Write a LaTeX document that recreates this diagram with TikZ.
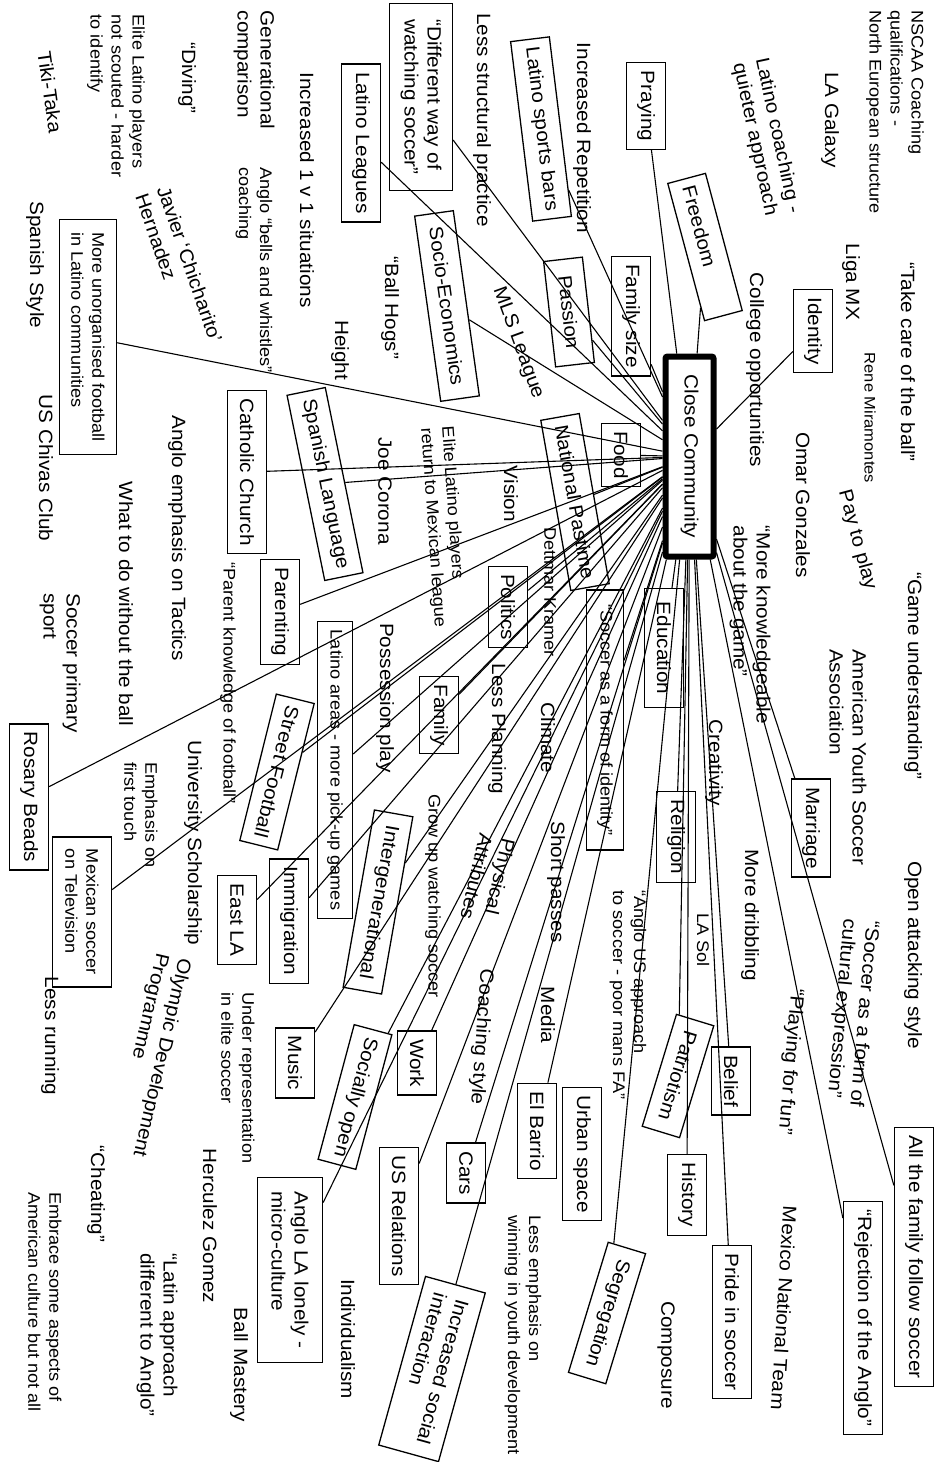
\documentclass[tikz,border=0pt]{standalone}
\usepackage{fontspec}
\setmainfont{Liberation Sans}[FakeStretch=1.08]
\newcommand\fBig{\fontsize{19.2}{23}\selectfont}
\newcommand\fSml{\fontsize{16.8}{21}\selectfont}
\newcommand\fTny{\fontsize{15.3}{18}\selectfont}
\begin{document}
\begin{tikzpicture}[x=1pt,y=-1pt,
  lab/.style={rotate=-90, inner sep=0pt, font=\fBig, align=left},
  sml/.style={font=\fSml},
  box/.style={draw, line width=1.3pt, rotate=-90, font=\fBig, inner xsep=8pt, inner ysep=2pt, minimum height=39pt},
  mbox/.style={draw, line width=1.3pt, rotate=-90, font=\fBig, align=left, inner xsep=8pt, inner ysep=6pt},
  link/.style={line width=1.1pt},
  hub/.style={draw, line width=6pt, rounded corners=2pt, rotate=-90, font=\fBig, minimum width=200pt, minimum height=48pt}]

\fill[white] (0,0) rectangle (938,1462);
\useasboundingbox (0,0) rectangle (938,1462);

% central concept
\node[hub] (cc) at (689.5,456.5) {Close Community};

% boxed concepts
\node[box] (praying) at (646,106) {Praying};
\node[box, rotate=15, text width=126pt, align=left] (freedom) at (705,247) {Freedom};
\node[box] (identity) at (813,331) {Identity};
\node[box, rotate=7] (sportsbars) at (541,129) {Latino sports bars};
\node[mbox, minimum width=187pt, minimum height=63pt] (diffway) at (421,97) {“Different way of\\watching soccer”};
\node[box] (leagues) at (361,143) {Latino Leagues};
\node[box, rotate=8, minimum width=187pt] (socio) at (447,306) {Socio-Economics};
\node[box] (famsize) at (631,316) {Family size};
\node[box, rotate=6.5, minimum width=106pt] (passion) at (569,312) {Passion};
\node[box] (food) at (621,455) {Food};
\node[box, rotate=10] (natpast) at (575,502) {National Pastime};
\node[mbox, font=\fSml, minimum width=235pt, minimum height=57pt] (unorg) at (88,337) {More unorganised football\\in Latino communities};
\node[box] (church) at (247,472) {Catholic Church};
\node[box, rotate=11.5] (spanish) at (325,484) {Spanish Language};
\node[box] (parenting) at (280,612) {Parenting};
\node[box] (politics) at (508,607) {Politics};
\node[box, font=\fSml, minimum width=260pt, minimum height=37pt] (soccid) at (605,720) {“Soccer as a form of identity”};
\node[box, minimum width=119pt] (education) at (664,648) {Education};
\node[box, font=\fSml, minimum height=35pt] (latareas) at (335,770) {Latino areas - more pick-up games};
\node[box] (family) at (439,715) {Family};
\node[box] (rosary) at (29,797) {Rosary Beads};
\node[box, rotate=-14] (street) at (277,772) {Street Football};
\node[box] (religion) at (676,837) {Religion};
\node[box] (marriage) at (811,828) {Marriage};
\node[mbox, font=\fSml, minimum width=150pt, minimum height=59pt] (mextv) at (82,912) {Mexican soccer\\on Television};
\node[box] (eastla) at (237,920) {East LA};
\node[box] (immig) at (289,921) {Immigration};
\node[box, rotate=-10, minimum width=180pt] (intergen) at (378,902) {Intergenerational};
\node[box] (music) at (295,1063) {Music};
\node[box, rotate=-15] (sociopen) at (355,1097) {Socially open};
\node[box] (work) at (417,1063) {Work};
\node[box] (usrel) at (399,1216) {US Relations};
\node[mbox, minimum width=185pt, minimum height=65pt] (anglola) at (290,1270) {Anglo LA lonely -\\micro-culture};
\node[box] (cars) at (466,1173) {Cars};
\node[mbox, rotate=-15.5, minimum width=175pt, minimum height=62pt] (incsoc) at (432,1369) {Increased social\\interaction};
\node[box] (elbarrio) at (537,1131) {El Barrio};
\node[box] (urban) at (582,1154) {Urban space};
\node[box, rotate=-17, minimum width=136pt] (segreg) at (607,1313) {Segregation};
\node[box, rotate=-17, minimum width=117pt] (patriot) at (678,1076) {Patriotism};
\node[box] (belief) at (731,1081) {Belief};
\node[box] (history) at (687,1195) {History};
\node[box] (pride) at (732,1322) {Pride in soccer};
\node[box] (rejection) at (863,1318) {“Rejection of the Anglo”};
\node[box] (allfam) at (914,1257) {All the family follow soccer};

% free-standing notes
\node[lab, sml] (nscaa) at (895,112) {NSCAA Coaching\\qualifications -\\North European structure};
\node[lab] (galaxy) at (830,120) {LA Galaxy};
\node[lab, rotate=12] (latcoach) at (766,138) {Latino coaching -\\quieter approach};
\node[lab] (take) at (908,362) {“Take care of the ball”};
\node[lab] (ligamx) at (851,282) {Liga MX};
\node[lab] (college) at (755,370) {College opportunities};
\node[lab, font=\fTny] (rene) at (870,418) {Rene Miramontes};
\node[lab] (omar) at (803,505) {Omar Gonzales};
\node[lab, rotate=15] (pay) at (857,540) {Pay to play};
\node[lab] (game) at (913,676) {“Game understanding”};
\node[lab] (knowl) at (750,625) {“More knowledgeable\\about the game”};
\node[lab] (ayso) at (848,757) {American Youth Soccer\\Association};
\node[lab] (open) at (913,955) {Open attacking style};
\node[lab] (creat) at (714,763) {Creativity};
\node[lab] (dribb) at (750,915) {More dribbling};
\node[lab, sml] (lasol) at (703,940) {LA Sol};
\node[lab, sml] (anglous) at (628,995) {“Anglo US approach\\to soccer - poor mans FA”};
\node[lab, rotate=-5] (playfun) at (790,1062) {“Playing for fun”};
\node[lab, rotate=-5] (cultexp) at (852,1013) {“Soccer as a form of\\cultural expression”};
\node[lab, rotate=-3.5] (mexnat) at (784,1308) {Mexico National Team};
\node[lab] (compos) at (666,1355) {Composure};
\node[lab, sml] (lessemph) at (523,1335) {Less emphasis on\\winning in youth development};
\node[lab] (individ) at (348,1339) {Individualism};
\node[lab] (ballmast) at (239,1365) {Ball Mastery};
\node[lab] (herc) at (210,1226) {Herculez Gomez};
\node[lab] (latinapp) at (157,1335) {“Latin approach\\different to Anglo”};
\node[lab] (cheat) at (96,1194) {“Cheating”};
\node[lab, sml] (embrace) at (45,1302) {Embrace some aspects of\\American culture but not all};
\node[lab, sml] (underrep) at (238,1078) {Under representation\\in elite soccer};
\node[lab, rotate=-13] (olympic) at (150,1055) {Olympic Development\\Programme};
\node[lab] (lessrun) at (50,1036) {Less running};
\node[lab] (univ) at (193,843) {University Scholarship};
\node[lab, sml] (emph) at (141,815) {Emphasis on\\first touch};
\node[lab, sml] (parentk) at (228,683) {“Parent knowledge of football”};
\node[lab] (soccprim) at (60,663) {Soccer primary\\sport};
\node[lab] (whatdo) at (126,604) {What to do without the ball};
\node[lab] (tactics) at (177,538) {Anglo emphasis on Tactics};
\node[lab] (chivas) at (46,468) {US Chivas Club};
\node[lab] (spstyle) at (35,265) {Spanish Style};
\node[lab, rotate=19] (javier) at (179,268) {Javier ‘Chicharito’\\Hernadez};
\node[lab, rotate=8] (tiki) at (50,92) {Tiki-Taka};
\node[lab, sml] (elitens) at (116,96) {Elite Latino players\\not scouted - harder\\to identify};
\node[lab] (diving) at (187,78) {“Diving”};
\node[lab] (gener) at (254,70) {Generational\\comparison};
\node[lab, sml] (bells) at (254,270) {Anglo “bells and whistles”\\coaching};
\node[lab] (inc1v1) at (307,190) {Increased 1 v 1 situations};
\node[lab] (ballhogs) at (390,308) {“Ball Hogs”};
\node[lab] (height) at (340,350) {Height};
\node[lab] (lessstruct) at (482,120) {Less structural practice};
\node[lab] (increp) at (582,138) {Increased Repetition};
\node[lab, rotate=20] (mls) at (518,343) {MLS League};
\node[lab] (joe) at (385,491) {Joe Corona};
\node[lab, sml, rotate=4] (eliteret) at (443,527) {Elite Latino players\\return to Mexican league};
\node[lab] (vision) at (511,494) {Vision};
\node[lab, sml] (dettmar) at (550,592) {Dettmar Kramer};
\node[lab] (possess) at (385,698) {Possession play};
\node[lab] (lessplan) at (497,729) {Less Planning};
\node[lab] (climate) at (548,738) {Climate};
\node[lab, sml] (growup) at (433,896) {Grow up watching soccer};
\node[lab, rotate=-13] (physical) at (488,879) {Physical\\Attributes};
\node[lab] (shortp) at (556,882) {Short passes};
\node[lab, rotate=-4] (coachst) at (481,1037) {Coaching style};
\node[lab] (media) at (548,1015) {Media};

% connectors from the central concept
\foreach \n in {praying,freedom,identity,sportsbars,diffway,leagues,socio,famsize,passion,food,natpast,unorg,church,spanish,parenting,politics,soccid,education,latareas,family,rosary,street,religion,marriage,mextv,eastla,immig,intergen,music,sociopen,work,usrel,anglola,cars,incsoc,elbarrio,segreg,patriot,belief,history,pride,rejection,allfam}
  \draw[link] (cc) -- (\n);
\end{tikzpicture}
\end{document}
